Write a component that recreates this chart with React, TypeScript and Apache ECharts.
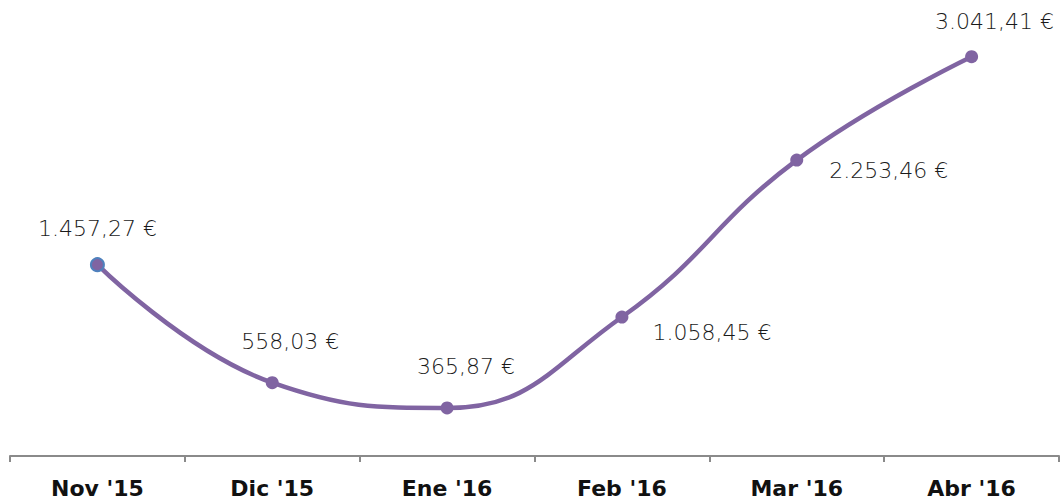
import React, { useEffect, useRef } from "react";
import * as echarts from "echarts";

const categories = ["Nov '15", "Dic '15", "Ene '16", "Feb '16", "Mar '16", "Abr '16"];
const values = [1457.27, 558.03, 365.87, 1058.45, 2253.46, 3041.41];
const valueLabels = ["1.457,27 €", "558,03 €", "365,87 €", "1.058,45 €", "2.253,46 €", "3.041,41 €"];
const labelOffsets: [number, number][] = [[0, -36], [18, -41], [19, -41], [90, 15], [92, 10], [23, -35]];

export default function App() {
  const ref = useRef<HTMLDivElement>(null);
  useEffect(() => {
    if (!ref.current) return;
    const chart = echarts.init(ref.current, null, { renderer: "svg" });
    const data = values.map((v, i) => ({
      value: v,
      itemStyle: i === 0 ? { color: "#8064a2", borderColor: "#4f81bd", borderWidth: 2 } : undefined,
      label: {
        show: true,
        position: "inside",
        offset: labelOffsets[i],
        formatter: valueLabels[i],
      },
    }));
    chart.setOption({
      animation: false,
      grid: { left: 10, right: 2, top: 0, height: 456 },
      xAxis: {
        type: "category",
        data: categories,
        boundaryGap: true,
        offset: 3,
        axisLine: { lineStyle: { color: "#8a8a8a", width: 2 } },
        axisTick: { show: true, length: 6, lineStyle: { color: "#8a8a8a", width: 2 } },
        axisLabel: {
          color: "#111",
          fontFamily: "'DejaVu Sans', sans-serif",
          fontWeight: "bold",
          fontSize: 22,
          margin: 18,
        },
      },
      yAxis: { type: "value", min: 0, max: 3473, show: false, splitLine: { show: false } },
      series: [
        {
          type: "line",
          data,
          smooth: 0.45,
          symbol: "circle",
          symbolSize: 13,
          lineStyle: { color: "#8064a2", width: 4.5 },
          itemStyle: { color: "#8064a2" },
          label: {
            color: "#1a1a1a",
            fontFamily: "'DejaVu Sans', sans-serif",
            fontWeight: 200,
            fontSize: 22,
          },
        },
      ],
    });
    return () => chart.dispose();
  }, []);
  return <div ref={ref} style={{ width: 1061, height: 504, position: "absolute", left: 0, top: 0 }} />;
}
